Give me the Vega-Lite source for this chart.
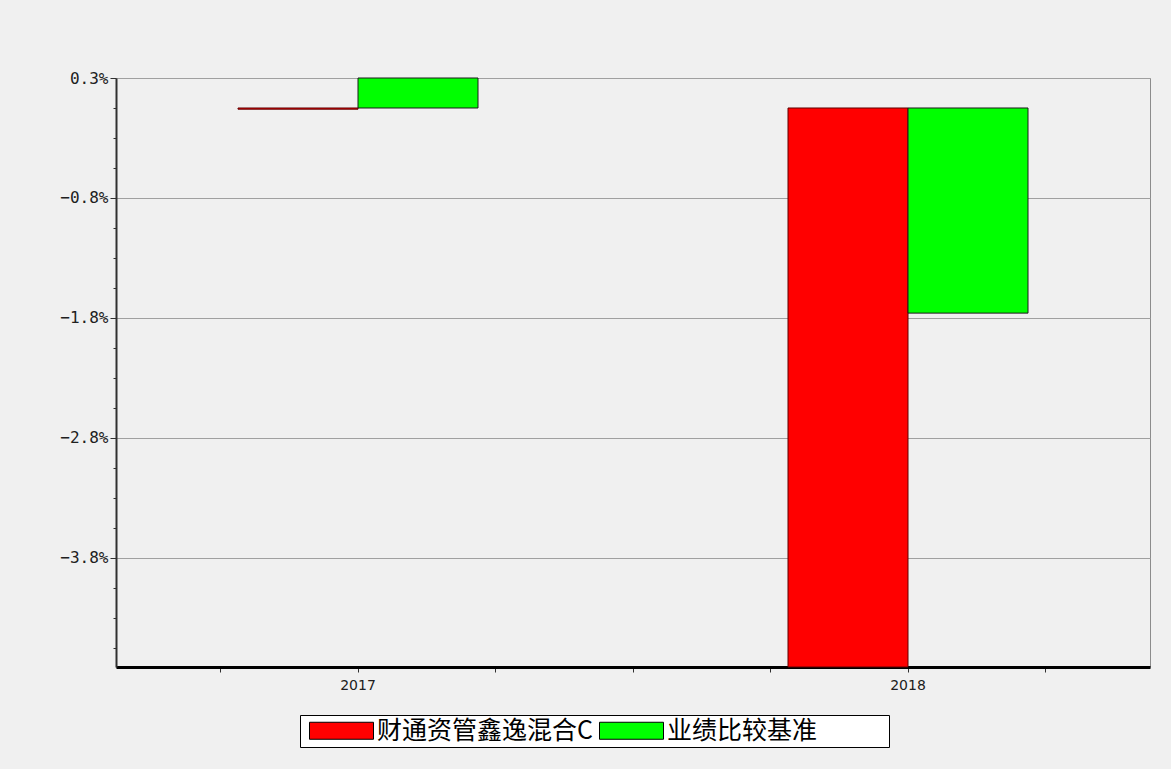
{
  "$schema": "https://vega.github.io/schema/vega-lite/v6.json",
  "width": 1034,
  "height": 589,
  "autosize": {"type": "none"},
  "padding": {"left": 116, "top": 78, "right": 21, "bottom": 102},
  "background": "#f0f0f0",
  "config": {"view": {"fill": "#f0f0f0", "stroke": "#8c8c8c", "strokeWidth": 1}},
  "data": {
    "values": [
      {"year": "2017", "series": "财通资管鑫逸混合C", "value": -0.01},
      {"year": "2017", "series": "业绩比较基准", "value": 0.25},
      {"year": "2018", "series": "财通资管鑫逸混合C", "value": -4.66},
      {"year": "2018", "series": "业绩比较基准", "value": -1.71}
    ]
  },
  "encoding": {
    "x": {
      "field": "year",
      "type": "nominal",
      "scale": {"domain": ["t1", "2017", "t3", "t4", "t5", "2018", "t7"], "paddingInner": 0, "paddingOuter": 0.26},
      "axis": {
        "title": null,
        "labelExpr": "indexof(['2017','2018'], datum.value) >= 0 ? datum.value : ''",
        "labelAngle": 0,
        "tickSize": 5,
        "tickColor": "#303030",
        "domainColor": "#000000",
        "domainWidth": 3,
        "labelFont": "DejaVu Sans",
        "labelFontSize": 14,
        "labelColor": "#202020",
        "labelPadding": 6,
        "grid": false
      }
    },
    "y": {
      "field": "value",
      "type": "quantitative",
      "scale": {"domain": [-4.66, 0.25], "nice": false},
      "axis": {
        "title": null,
        "values": [0.25, 0, -0.25, -0.5, -0.75, -1, -1.25, -1.5, -1.75, -2, -2.25, -2.5, -2.75, -3, -3.25, -3.5, -3.75, -4, -4.25, -4.5],
        "labelExpr": "abs(datum.value - 0.25 - round(datum.value - 0.25)) < 0.01 ? format(datum.value, '.1f') + '%' : ''",
        "labelOverlap": false,
        "tickSize": {"condition": {"test": "abs(datum.value - 0.25 - round(datum.value - 0.25)) < 0.01", "value": 6}, "value": 3},
        "gridOpacity": {"condition": {"test": "abs(datum.value - 0.25 - round(datum.value - 0.25)) < 0.01", "value": 1}, "value": 0},
        "grid": true,
        "gridColor": "#a0a0a0",
        "gridWidth": 1,
        "domainColor": "#303030",
        "domainWidth": 2,
        "tickColor": "#303030",
        "labelFont": "DejaVu Sans Mono",
        "labelFontSize": 16,
        "labelColor": "#202020",
        "labelPadding": 2
      }
    },
    "y2": {"datum": 0},
    "color": {
      "field": "series",
      "type": "nominal",
      "scale": {"domain": ["财通资管鑫逸混合C", "业绩比较基准"], "range": ["#ff0000", "#00ff00"]},
      "legend": {
        "title": null,
        "orient": "none",
        "legendX": 184,
        "legendY": 637,
        "direction": "horizontal",
        "columns": 2,
        "fillColor": "#ffffff",
        "strokeColor": "#000000",
        "padding": 3,
        "symbolType": "M-3.2,-0.85H3.2V0.85H-3.2Z",
        "symbolSize": 400,
        "symbolStrokeColor": "#000000",
        "symbolStrokeWidth": 1,
        "symbolOffset": 26,
        "symbolOpacity": 1,
        "labelOffset": 23,
        "labelExpr": "datum.value === '业绩比较基准' ? datum.label + '\u3000\u3000\u2800' : datum.label",
        "labelFont": "Noto Sans CJK SC",
        "labelFontSize": 25,
        "labelColor": "#000000",
        "labelLimit": 500,
        "columnPadding": 0
      }
    }
  },
  "layer": [
    {
      "transform": [{"filter": "datum.series === '财通资管鑫逸混合C'"}],
      "mark": {"type": "bar", "width": 120, "xOffset": -60, "stroke": "#600000", "strokeWidth": 1, "opacity": 1}
    },
    {
      "transform": [{"filter": "datum.series === '业绩比较基准'"}],
      "mark": {"type": "bar", "width": 120, "xOffset": 60, "stroke": "#1a1a1a", "strokeWidth": 1, "opacity": 1}
    }
  ]
}
